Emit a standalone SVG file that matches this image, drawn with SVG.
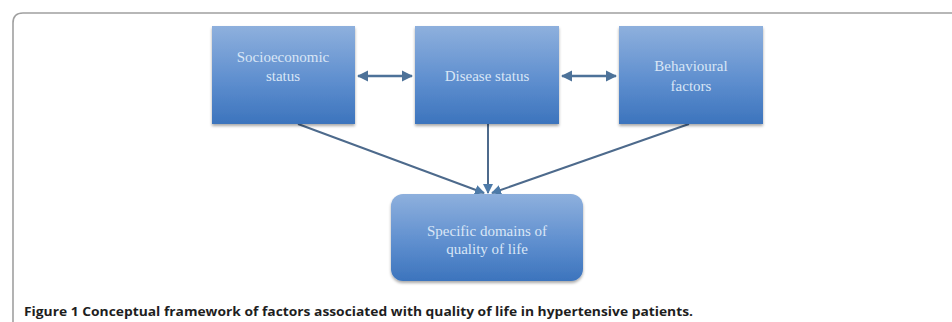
<svg xmlns="http://www.w3.org/2000/svg" width="952" height="322" viewBox="0 0 952 322">
<defs>
<linearGradient id="g" x1="0" y1="0" x2="0" y2="1">
<stop offset="0" stop-color="#8eb0dd"/>
<stop offset="0.55" stop-color="#5f8fcf"/>
<stop offset="1" stop-color="#3c74bd"/>
</linearGradient>
<filter id="sh" x="-10%" y="-10%" width="120%" height="125%">
<feGaussianBlur in="SourceAlpha" stdDeviation="1.5"/>
<feOffset dy="1.5"/>
<feComponentTransfer><feFuncA type="linear" slope="0.35"/></feComponentTransfer>
<feMerge><feMergeNode/><feMergeNode in="SourceGraphic"/></feMerge>
</filter>
<marker id="ah" viewBox="0 0 10 10" refX="9" refY="5" markerWidth="4.5" markerHeight="4.5" orient="auto-start-reverse">
<path d="M0,0 L10,5 L0,10 z" fill="#4d7299"/>
</marker>
<marker id="ah2" viewBox="0 0 10 10" refX="9" refY="5" markerWidth="5" markerHeight="5" orient="auto">
<path d="M0,0 L10,5 L0,10 z" fill="#4d7aa8"/>
</marker>
</defs>
<style>
.box{fill:url(#g);filter:url(#sh)}
.lbl{font-family:"Liberation Serif",serif;font-size:15px;fill:#d9e6f6;text-anchor:middle}
.dbl{stroke:#4d7299;stroke-width:2.5;fill:none}
.ln{stroke:#4d6a8c;stroke-width:2;fill:none}
.cap{font-family:"Open Sans","Liberation Sans",sans-serif;font-weight:bold;font-size:12.5px;fill:#1e1e1e}
</style>
<rect width="952" height="322" fill="#ffffff"/>
<path d="M13,322 L13,23 Q13,13 23,13 L952,13" fill="none" stroke="#a0a0a0" stroke-width="1.6"/>
<g id="connectors">
<line class="dbl" x1="358" y1="76" x2="412" y2="76" marker-start="url(#ah)" marker-end="url(#ah)"/>
<line class="dbl" x1="562" y1="76" x2="616" y2="76" marker-start="url(#ah)" marker-end="url(#ah)"/>
<line class="ln" x1="298" y1="124" x2="484" y2="193" marker-end="url(#ah2)"/>
<line class="ln" x1="488" y1="124" x2="488" y2="193" marker-end="url(#ah2)"/>
<line class="ln" x1="689" y1="124" x2="492" y2="193" marker-end="url(#ah2)"/>
</g>
<g id="socioeconomic">
<rect class="box" x="212" y="26" width="143" height="98"/>
<text class="lbl" x="283" y="62">Socioeconomic</text>
<text class="lbl" x="283" y="81">status</text>
</g>
<g id="disease">
<rect class="box" x="415" y="26" width="144" height="98"/>
<text class="lbl" x="487" y="81">Disease status</text>
</g>
<g id="behavioural">
<rect class="box" x="619" y="26" width="144" height="98"/>
<text class="lbl" x="691" y="71">Behavioural</text>
<text class="lbl" x="691" y="91">factors</text>
</g>
<g id="quality">
<rect class="box" x="391" y="194" width="192" height="87" rx="12" ry="12"/>
<text class="lbl" x="487" y="236">Specific domains of</text>
<text class="lbl" x="487" y="254">quality of life</text>
</g>
<text class="cap" x="24" y="316" textLength="669" lengthAdjust="spacingAndGlyphs">Figure 1 Conceptual framework of factors associated with quality of life in hypertensive patients.</text>
</svg>
